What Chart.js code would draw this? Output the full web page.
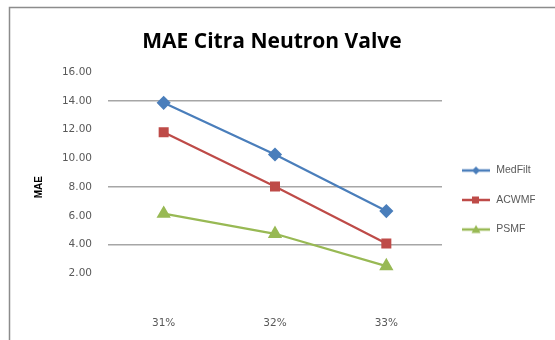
<!DOCTYPE html>
<html>
<head>
<meta charset="utf-8">
<script src="https://cdn.jsdelivr.net/npm/chart.js@4"></script>
<style>
  html, body { margin: 0; padding: 0; background: #fff; }
  #wrap { width: 555px; height: 340px; position: relative; }
</style>
</head>
<body>
<div id="wrap"><canvas id="c" width="555" height="340"></canvas></div>
<script>
// Noise levels on the x axis
const categories = ['31%', '32%', '33%'];
// Mean absolute error of each filter
const medFilt = [13.87, 10.27, 6.33];
const acwmf = [11.82, 8.04, 4.08];
const psmf = [6.15, 4.75, 2.50];
// Value axis
const yMin = 0, yMax = 16, yStep = 2;
const gridValues = [4, 8, 14];

const BLUE = '#4a7ebb', RED = '#be4b48', GREEN = '#98b954';

// Small line + marker swatch used in the legend
function swatch(color, style) {
  const cv = document.createElement('canvas');
  cv.width = 30; cv.height = 12;
  const g = cv.getContext('2d');
  g.strokeStyle = color; g.lineWidth = 2.5;
  g.beginPath(); g.moveTo(1, 6); g.lineTo(29, 6); g.stroke();
  g.fillStyle = color;
  g.beginPath();
  if (style === 'diamond') {
    g.moveTo(15, 2); g.lineTo(19, 6); g.lineTo(15, 10); g.lineTo(11, 6);
  } else if (style === 'square') {
    g.rect(11, 2.5, 7, 7);
  } else {
    g.moveTo(15, 1.5); g.lineTo(19.5, 9.5); g.lineTo(10.5, 9.5);
  }
  g.closePath(); g.fill();
  return cv;
}

const frame = {
  id: 'frame',
  beforeDraw(chart) {
    const g = chart.ctx;
    g.save();
    g.strokeStyle = '#8c8c8c';
    g.lineWidth = 1.5;
    g.beginPath();
    g.moveTo(9.5, 340); g.lineTo(9.5, 7.5); g.lineTo(555, 7.5);
    g.stroke();
    g.restore();
  }
};

const tickFont = { family: 'DejaVu Sans', size: 10.5 };

new Chart(document.getElementById('c'), {
  type: 'line',
  data: {
    labels: categories,
    datasets: [
      { label: 'MedFilt', data: medFilt, borderColor: BLUE, backgroundColor: BLUE,
        pointStyle: 'rectRot', pointRadius: 5.5, borderWidth: 2.25, legendSwatch: swatch(BLUE, 'diamond') },
      { label: 'ACWMF', data: acwmf, borderColor: RED, backgroundColor: RED,
        pointStyle: 'rect', pointRadius: 5.5, borderWidth: 2.25, legendSwatch: swatch(RED, 'square') },
      { label: 'PSMF', data: psmf, borderColor: GREEN, backgroundColor: GREEN,
        pointStyle: 'triangle', pointRadius: 6, borderWidth: 2.25, legendSwatch: swatch(GREEN, 'triangle') }
    ]
  },
  options: {
    responsive: false,
    animation: false,
    events: [],
    layout: { padding: { left: 9, top: 8, right: 20, bottom: 0 } },
    elements: { line: { tension: 0 }, point: { borderWidth: 0 } },
    plugins: {
      title: {
        display: true,
        text: 'MAE Citra Neutron Valve',
        color: '#000',
        font: { family: 'Open Sans', size: 21, weight: 'bold', lineHeight: 1.2 },
        padding: { top: 21, bottom: 18 }
      },
      legend: {
        position: 'right',
        align: 'center',
        maxWidth: 93,
        title: { display: true, text: '', font: { size: 10 }, padding: { top: 20, bottom: 20 } },
        labels: {
          usePointStyle: true,
          pointStyleWidth: 30,
          padding: 19,
          color: '#595959',
          font: { family: 'Liberation Sans', size: 10.5 },
          generateLabels(chart) {
            return chart.data.datasets.map((ds, i) => ({
              text: ds.label,
              pointStyle: ds.legendSwatch,
              fillStyle: ds.borderColor,
              strokeStyle: ds.borderColor,
              lineWidth: 0,
              fontColor: '#595959',
              hidden: false,
              datasetIndex: i
            }));
          }
        }
      },
      tooltip: { enabled: false }
    },
    scales: {
      x: {
        offset: true,
        grid: { display: false, drawTicks: false },
        border: { display: false },
        ticks: { color: '#595959', font: tickFont, padding: 15 },
        afterFit(scale) { scale.height = 38; }
      },
      y: {
        min: yMin, max: yMax,
        grid: {
          drawTicks: false,
          lineWidth: 1.5,
          color: ctx => gridValues.includes(ctx.tick && ctx.tick.value) ? '#a6a6a6' : 'rgba(0,0,0,0)'
        },
        border: { display: false },
        ticks: {
          stepSize: yStep,
          padding: 16,
          color: '#595959',
          font: tickFont,
          callback: v => v === 0 ? '' : v.toFixed(2)
        },
        title: {
          display: true, text: 'MAE', color: '#000',
          font: { family: 'Liberation Sans', size: 10, weight: 'bold' },
          padding: { top: 24 }
        },
        afterFit(scale) { scale.width = 99; }
      }
    }
  },
  plugins: [frame]
});
</script>
</body>
</html>
